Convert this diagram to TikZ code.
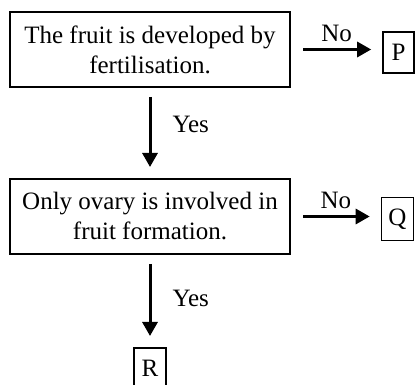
\documentclass[tikz,border=0pt]{standalone}
\usepackage{fontspec}
\setmainfont{Liberation Serif}
\usetikzlibrary{arrows.meta}

\tikzset{
  question/.style={draw, line width=2pt, minimum width=280pt, minimum height=75pt,
    align=center, inner sep=0pt},
  answer/.style={draw, line width=1.6pt, minimum width=31pt, minimum height=41pt,
    inner sep=0pt},
  link/.style={line width=3pt, -{Triangle[length=14pt,width=15pt]}},
  tag/.style={inner sep=0pt}
}

\begin{document}
\begin{tikzpicture}[x=1pt,y=1pt,font=\fontsize{25}{30}\selectfont]
      \useasboundingbox (0,0) rectangle (415,385);

      % questions
      \node[question] (q1) at (150,335.5) {The fruit is developed by\\fertilisation.};
      \node[question] (q2) at (150,168.5) {Only ovary is involved in\\fruit formation.};

      % answers
      \node[answer] (p) at (398.5,332.5) {P};
      \node[answer, minimum width=32pt, minimum height=43pt] (q) at (397.5,166) {Q};
      \node[answer, minimum width=32pt, anchor=north] (r) at (150,38) {R};

      % links
      \draw[link, shorten <=12pt, shorten >=11pt] (q1.east) -- (q1.east -| p.west)
            node[tag, midway, above=6pt] {No};
      \draw[link, shorten <=9pt, shorten >=11pt] (q1.south) -- (q2.north)
            node[tag, pos=0.41, right=21pt] {Yes};
      \draw[link, shorten <=12pt, shorten >=11pt] (q2.east) -- (q2.east -| q.west)
            node[tag, midway, above=6pt] {No};
      \draw[link, shorten <=9pt, shorten >=11pt] (q2.south) -- (r.north)
            node[tag, pos=0.47, right=21pt] {Yes};
\end{tikzpicture}
\end{document}
